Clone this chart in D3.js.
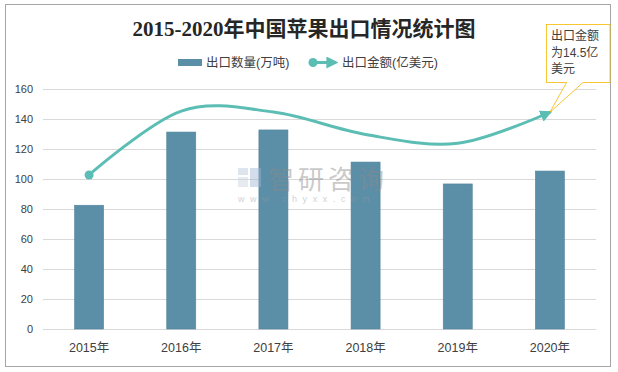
<!DOCTYPE html>
<html>
<head>
<meta charset="utf-8">
<script src="https://cdn.jsdelivr.net/npm/d3@7"></script>
<style>
  body { margin: 0; background: #fff; }
  text { font-family: "Liberation Sans", "Noto Sans CJK SC", sans-serif; }
</style>
</head>
<body>
<div id="chart-area"></div>
<script>
const width = 618, height = 372;
const margin = ({top: 89, right: 22, bottom: 43, left: 43});

// data
const years = ["2015年", "2016年", "2017年", "2018年", "2019年", "2020年"];
const exportVolume = [82.5, 131.3, 132.7, 111.3, 96.7, 105.3];   // 万吨
const exportValue = [10.27, 14.53, 14.46, 12.97, 12.38, 14.45];  // 亿美元
const yTicks = [0, 20, 40, 60, 80, 100, 120, 140, 160];
const calloutLines = ["出口金额", "为14.5亿", "美元"];

const barColor = "#5b8fa8", lineColor = "#5cbdb4", textColor = "#404040";

const svg = d3.select("#chart-area").append("svg")
    .attr("width", width)
    .attr("height", height);

// outer frame
svg.append("rect")
    .attr("x", 5.5).attr("y", 4.5)
    .attr("width", 605).attr("height", 362)
    .attr("fill", "#fff")
    .attr("stroke", "#a6a6a6");

const x = d3.scaleBand()
    .domain(years)
    .range([margin.left, width - margin.right])
    .paddingInner(0.685)
    .paddingOuter(0.3425);

const y = d3.scaleLinear()
    .domain([0, 160])
    .range([height - margin.bottom, margin.top]);

// hidden secondary axis for the value line
const y2 = d3.scaleLinear()
    .domain([0, 16])
    .range([height - margin.bottom, margin.top]);

// gridlines
svg.append("g")
    .selectAll("line")
    .data(yTicks)
    .join("line")
    .attr("x1", margin.left)
    .attr("x2", width - margin.right)
    .attr("y1", d => Math.round(y(d)) + 0.5)
    .attr("y2", d => Math.round(y(d)) + 0.5)
    .attr("stroke", "#d9d9d9");

// y axis labels
const yAxis = g => g
    .attr("transform", `translate(${margin.left - 10},0)`)
    .call(d3.axisLeft(y).tickValues(yTicks).tickSize(0).tickPadding(0))
    .call(g => g.select(".domain").remove())
    .call(g => g.selectAll("text")
        .attr("fill", textColor)
        .style("font-size", "11px")
        .attr("x", 0));
svg.append("g").call(yAxis);

// x axis labels
const xAxis = g => g
    .attr("transform", `translate(0,${height - margin.bottom})`)
    .call(d3.axisBottom(x).tickSize(0).tickPadding(14))
    .call(g => g.select(".domain").remove())
    .call(g => g.selectAll("text")
        .attr("fill", textColor)
        .style("font-size", "12.5px"));
svg.append("g").call(xAxis);

// bars
svg.append("g")
    .selectAll("rect")
    .data(exportVolume)
    .join("rect")
    .attr("x", (d, i) => x(years[i]))
    .attr("y", d => y(d))
    .attr("width", x.bandwidth())
    .attr("height", d => y(0) - y(d))
    .attr("fill", barColor)
    .attr("stroke", "#52849d")
    .attr("stroke-width", 0.6);

// watermark
const wm = svg.append("g").attr("opacity", 0.45);
wm.append("rect").attr("x", 238).attr("y", 168).attr("width", 10).attr("height", 7).attr("fill", "#b5c6dd");
wm.append("rect").attr("x", 238).attr("y", 177).attr("width", 10).attr("height", 10).attr("fill", "#c9d3e3");
wm.append("rect").attr("x", 250).attr("y", 168).attr("width", 11).attr("height", 19).attr("fill", "#9fb4d3");
wm.append("text")
    .attr("x", 268).attr("y", 189)
    .attr("fill", "#8a8a8a")
    .style("font-size", "26px")
    .style("letter-spacing", "4px")
    .text("智研咨询");
wm.append("text")
    .attr("x", 238).attr("y", 202)
    .attr("fill", "#9a9a9a")
    .style("font-size", "9px")
    .style("letter-spacing", "5.6px")
    .text("www.chyxx.com");

// line
const defs = svg.append("defs");
defs.append("marker")
    .attr("id", "arrow")
    .attr("viewBox", "0 0 10 10")
    .attr("refX", 8).attr("refY", 5)
    .attr("markerWidth", 4).attr("markerHeight", 4)
    .attr("orient", "auto")
    .append("path")
    .attr("d", "M0,0L10,5L0,10Z")
    .attr("fill", lineColor);

const line = d3.line()
    .x((d, i) => x(years[i]) + x.bandwidth() / 2)
    .y(d => y2(d))
    .curve(d3.curveCardinal.tension(0));

svg.append("path")
    .attr("d", line(exportValue))
    .attr("fill", "none")
    .attr("stroke", lineColor)
    .attr("stroke-width", 3)
    .attr("stroke-linecap", "round")
    .attr("marker-end", "url(#arrow)");

svg.append("circle")
    .attr("cx", x(years[0]) + x.bandwidth() / 2)
    .attr("cy", y2(exportValue[0]))
    .attr("r", 4.5)
    .attr("fill", lineColor);

// title
svg.append("text")
    .attr("x", 304).attr("y", 36)
    .attr("text-anchor", "middle")
    .attr("fill", "#262626")
    .style("font-family", "'Liberation Serif', 'Noto Sans CJK SC', serif")
    .style("font-weight", "bold")
    .style("font-size", "21px")
    .text("2015-2020年中国苹果出口情况统计图");

// legend
const legend = svg.append("g").style("font-size", "12.5px");
legend.append("rect")
    .attr("x", 178).attr("y", 59)
    .attr("width", 24).attr("height", 7)
    .attr("fill", barColor);
legend.append("text")
    .attr("x", 206).attr("y", 67)
    .attr("fill", textColor)
    .text("出口数量(万吨)");
legend.append("line")
    .attr("x1", 313).attr("x2", 336)
    .attr("y1", 62.5).attr("y2", 62.5)
    .attr("stroke", lineColor)
    .attr("stroke-width", 3)
    .attr("marker-end", "url(#arrow)");
legend.append("circle")
    .attr("cx", 313).attr("cy", 62.5).attr("r", 4.5)
    .attr("fill", lineColor);
legend.append("text")
    .attr("x", 342).attr("y", 67)
    .attr("fill", textColor)
    .text("出口金额(亿美元)");

// callout for the last point
const tipX = x(years[5]) + x.bandwidth() / 2, tipY = y2(exportValue[5]);
const callout = svg.append("g");
callout.append("path")
    .attr("d", `M566.5,82.5L${tipX},${tipY}L583,82.5`)
    .attr("fill", "#fff")
    .attr("stroke", "#f5b800")
    .attr("stroke-width", 0.8);
callout.append("rect")
    .attr("x", 546.5).attr("y", 24.5)
    .attr("width", 63.5).attr("height", 58)
    .attr("fill", "#fff")
    .attr("stroke", "#f5b800")
    .attr("stroke-width", 0.8);
callout.append("line")
    .attr("x1", 567).attr("x2", 582.5)
    .attr("y1", 82.5).attr("y2", 82.5)
    .attr("stroke", "#fff")
    .attr("stroke-width", 1.2);
callout.selectAll("text")
    .data(calloutLines)
    .join("text")
    .attr("x", 551)
    .attr("y", (d, i) => 40 + i * 16.5)
    .attr("fill", textColor)
    .style("font-size", "12px")
    .text(d => d);
</script>
</body>
</html>
